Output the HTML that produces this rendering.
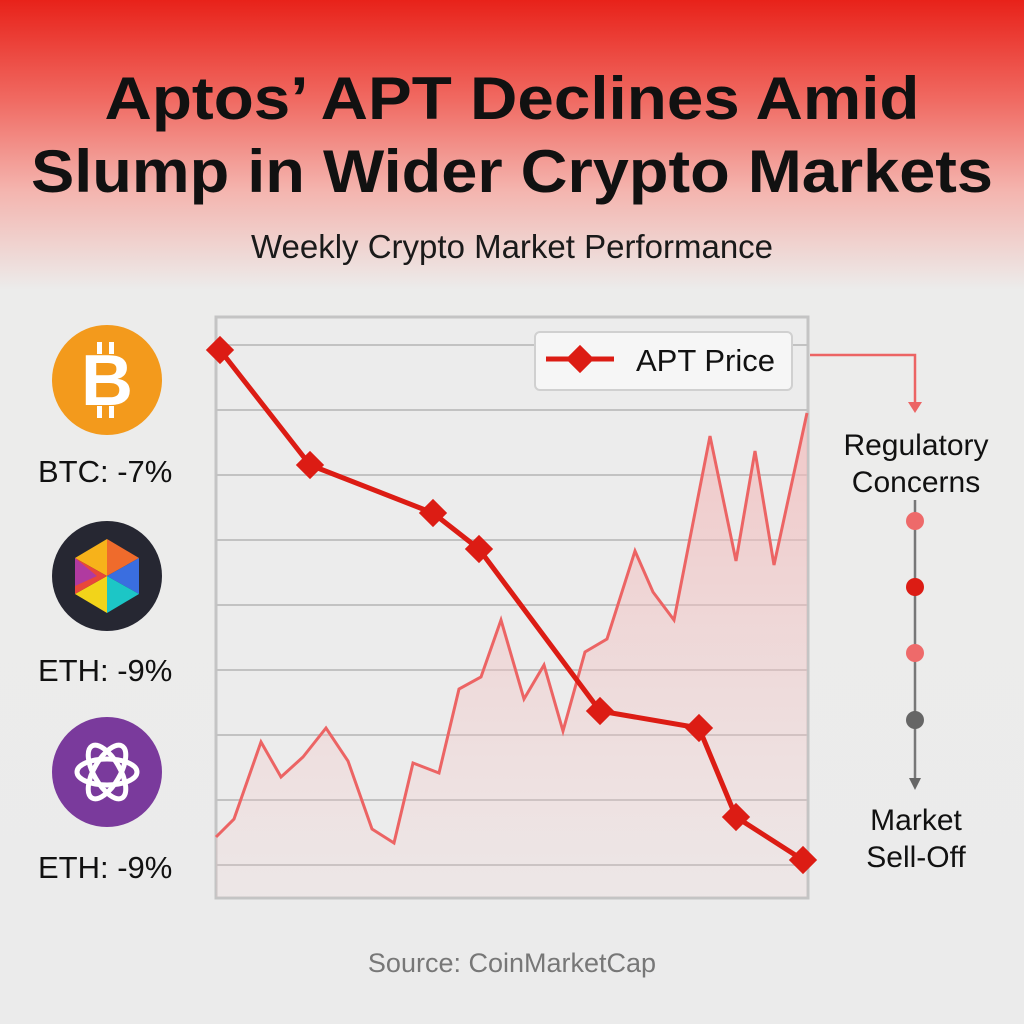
<!DOCTYPE html>
<html><head><meta charset="utf-8"><style>
html,body{margin:0;padding:0;width:1024px;height:1024px;overflow:hidden}
body{background:linear-gradient(180deg,#e8221a 0px,#f06a62 100px,#f4b4ae 190px,#ececeb 290px,#ebebeb 1024px);font-family:"Liberation Sans",sans-serif}
</style></head><body>
<svg width="1024" height="1024" viewBox="0 0 1024 1024" xmlns="http://www.w3.org/2000/svg" style="position:absolute;left:0;top:0">
<defs><linearGradient id="f" x1="0" y1="0" x2="0" y2="1"><stop offset="0" stop-color="#f2b8b8" stop-opacity="0.7"/><stop offset="1" stop-color="#f2c8c8" stop-opacity="0.15"/></linearGradient></defs>
<g font-family="Liberation Sans, sans-serif" text-anchor="middle">
<text x="512" y="119" font-size="60" font-weight="bold" fill="#111" textLength="815" lengthAdjust="spacingAndGlyphs">Aptos’ APT Declines Amid</text>
<text x="512" y="192" font-size="60" font-weight="bold" fill="#111" textLength="962" lengthAdjust="spacingAndGlyphs">Slump in Wider Crypto Markets</text>
<text x="512" y="258" font-size="33" fill="#1a1a1a">Weekly Crypto Market Performance</text>
<text x="512" y="972" font-size="27" fill="#777">Source: CoinMarketCap</text>
</g>
<rect x="216" y="317" width="592" height="581" fill="#ececec" stroke="#c4c4c4" stroke-width="3"/>
<g stroke="#c2c2c2" stroke-width="2">
<line x1="216" y1="345" x2="808" y2="345"/><line x1="216" y1="410" x2="808" y2="410"/><line x1="216" y1="475" x2="808" y2="475"/><line x1="216" y1="540" x2="808" y2="540"/><line x1="216" y1="605" x2="808" y2="605"/><line x1="216" y1="670" x2="808" y2="670"/><line x1="216" y1="735" x2="808" y2="735"/><line x1="216" y1="800" x2="808" y2="800"/><line x1="216" y1="865" x2="808" y2="865"/>
</g>
<polygon fill="url(#f)" points="216,837 234,819 261,742 281,777 303,757 326,728 348,761 372,829 394,843 413,763 439,773 459,689 481,677 501,620 524,699 544,665 563,731 585,652 607,639 635,551 653,592 674,620 710,436 736,561 755,451 774,565 807,413 807,897 216,897"/>
<polyline fill="none" stroke="#ec6464" stroke-width="3" points="216,837 234,819 261,742 281,777 303,757 326,728 348,761 372,829 394,843 413,763 439,773 459,689 481,677 501,620 524,699 544,665 563,731 585,652 607,639 635,551 653,592 674,620 710,436 736,561 755,451 774,565 807,413"/>
<polyline fill="none" stroke="#dc1c14" stroke-width="5" stroke-linejoin="round" points="220,350 310,465 433,513 479,549 600,711 699,728 736,817 803,860"/>
<g fill="#dc1c14">
<rect x="210" y="340" width="20" height="20" transform="rotate(45 220 350)"/>
<rect x="300" y="455" width="20" height="20" transform="rotate(45 310 465)"/>
<rect x="423" y="503" width="20" height="20" transform="rotate(45 433 513)"/>
<rect x="469" y="539" width="20" height="20" transform="rotate(45 479 549)"/>
<rect x="590" y="701" width="20" height="20" transform="rotate(45 600 711)"/>
<rect x="689" y="718" width="20" height="20" transform="rotate(45 699 728)"/>
<rect x="726" y="807" width="20" height="20" transform="rotate(45 736 817)"/>
<rect x="793" y="850" width="20" height="20" transform="rotate(45 803 860)"/>
</g>
<rect x="535" y="332" width="257" height="58" rx="5" fill="#f6f6f6" stroke="#d0d0d0" stroke-width="2"/>
<line x1="546" y1="359" x2="614" y2="359" stroke="#dc1c14" stroke-width="5"/>
<rect x="570" y="349" width="20" height="20" fill="#dc1c14" transform="rotate(45 580 359)"/>
<text x="636" y="371" font-size="31" fill="#111">APT Price</text>
<polyline fill="none" stroke="#ec6464" stroke-width="2.5" points="810,355 915,355 915,405"/>
<polygon points="908,402 922,402 915,413" fill="#ec6464"/>
<line x1="915" y1="500" x2="915" y2="780" stroke="#777" stroke-width="2.5"/>
<polygon points="909,778 921,778 915,790" fill="#666"/>
<circle cx="915" cy="521" r="9" fill="#ee6a6a"/>
<circle cx="915" cy="587" r="9" fill="#dc1c14"/>
<circle cx="915" cy="653" r="9" fill="#ee6a6a"/>
<circle cx="915" cy="720" r="9" fill="#666"/>
<g font-size="30" fill="#111" text-anchor="middle">
<text x="916" y="455">Regulatory</text><text x="916" y="492">Concerns</text>
<text x="916" y="830">Market</text><text x="916" y="867">Sell-Off</text>
</g>
<circle cx="107" cy="380" r="55" fill="#f39a1c"/>
<text x="107" y="405" font-size="72" font-weight="bold" fill="#fff" text-anchor="middle">B</text>
<rect x="97" y="342" width="5" height="12" fill="#fff"/><rect x="109" y="342" width="5" height="12" fill="#fff"/>
<rect x="97" y="406" width="5" height="12" fill="#fff"/><rect x="109" y="406" width="5" height="12" fill="#fff"/>
<circle cx="107" cy="576" r="55" fill="#262732"/>
<g transform="translate(107,576)">
<polygon points="0,-37 -32,-18 0,0" fill="#f7b21a"/>
<polygon points="0,-37 32,-18 0,0" fill="#ef6b2c"/>
<polygon points="32,-18 32,18 0,0" fill="#3a6ee0"/>
<polygon points="32,18 0,37 0,0" fill="#1cc6c6"/>
<polygon points="0,37 -32,18 0,0" fill="#f2d41a"/>
<polygon points="-32,18 -32,-18 0,0" fill="#e9463a"/>
<polygon points="-32,-18 -32,10 -10,0" fill="#b03aa0"/>
</g>
<circle cx="107" cy="772" r="55" fill="#7a3a9c"/>
<g transform="translate(107,772)" fill="none" stroke="#fff" stroke-width="5">
<ellipse rx="30" ry="13" transform="rotate(0)"/>
<ellipse rx="30" ry="13" transform="rotate(60)"/>
<ellipse rx="30" ry="13" transform="rotate(120)"/>
</g>
<g font-size="31" fill="#111">
<text x="38" y="482">BTC: -7%</text>
<text x="38" y="681">ETH: -9%</text>
<text x="38" y="878">ETH: -9%</text>
</g>
</svg>
</body></html>
